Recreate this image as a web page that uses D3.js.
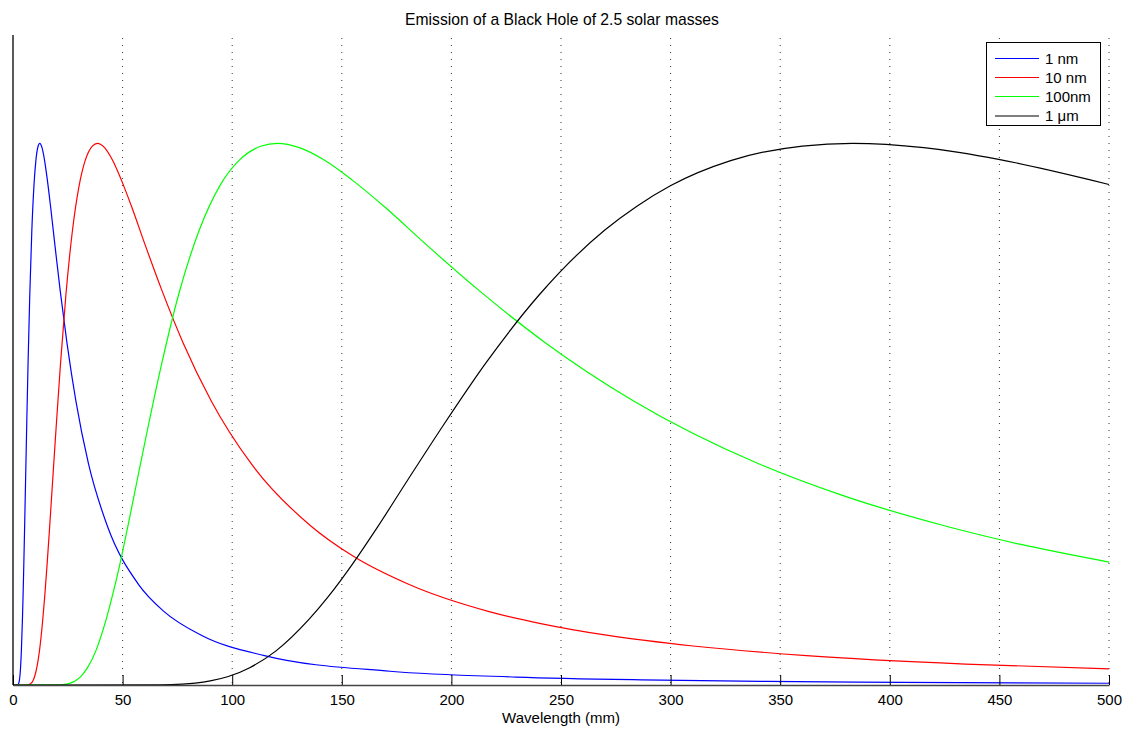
<!DOCTYPE html>
<html>
<head>
<meta charset="utf-8">
<script src="https://cdn.jsdelivr.net/npm/d3@7"></script>
<style>
  html, body { margin: 0; padding: 0; background: #fff; }
  svg { display: block; font-family: "Liberation Sans", Arial, Helvetica, sans-serif; }
</style>
</head>
<body>
<svg id="chart" width="1129" height="729"></svg>
<script>
// ---- Data (normalised emission, peak = 1) ----
const chartTitle = "Emission of a Black Hole of 2.5 solar masses";
const xAxisLabel = "Wavelength (mm)";
const xTickValues = [0, 50, 100, 150, 200, 250, 300, 350, 400, 450, 500];
const seriesNames = ["1 nm", "10 nm", "100nm", "1 \u03bcm"];
const seriesColors = ["#0000ff", "#ff0000", "#00ff00", "#000000"];

const blueLambda = [0, 2.15, 2.46, 2.65, 2.87, 3.13, 3.44, 3.82, 4.30, 4.59, 4.92, 5.30, 5.74, 6.26, 6.88, 7.65, 8.6, 9.56, 10.43, 11.47, 12.2, 13.24, 14.34, 15.65, 17.21, 19.12, 21.5, 24.6, 28.7, 34.4, 43.0, 57.4, 68.8, 86.1, 114.7, 172, 229.5, 286.8, 344, 405, 500];
const blueValue  = [0, 0.0003, 0.0016, 0.0035, 0.0075, 0.0156, 0.032, 0.063, 0.121, 0.164, 0.220, 0.291, 0.378, 0.480, 0.596, 0.720, 0.840, 0.922, 0.968, 0.995, 1, 0.992, 0.970, 0.933, 0.881, 0.812, 0.729, 0.632, 0.524, 0.409, 0.294, 0.185, 0.136, 0.0915, 0.0543, 0.0254, 0.0147, 0.0095, 0.0067, 0.0049, 0.0032];

const redLambda = [0, 6.79, 7.76, 8.35, 9.05, 9.87, 10.86, 12.07, 13.58, 14.48, 15.51, 16.71, 18.1, 19.75, 21.72, 24.13, 27.15, 30.17, 32.91, 36.2, 38.5, 41.77, 45.25, 49.36, 54.3, 60.33, 67.88, 77.57, 90.5, 108.6, 135.75, 155.1, 181, 217.2, 241.3, 271.5, 310.3, 362, 434.4, 500];
const redValue  = [0, 0.0003, 0.0016, 0.0035, 0.0075, 0.0156, 0.032, 0.063, 0.121, 0.164, 0.220, 0.291, 0.378, 0.480, 0.596, 0.720, 0.840, 0.922, 0.968, 0.995, 1, 0.992, 0.970, 0.933, 0.881, 0.812, 0.729, 0.632, 0.524, 0.409, 0.294, 0.238, 0.185, 0.1355, 0.113, 0.0915, 0.072, 0.0543, 0.0387, 0.0297];

const greenLambda = [0, 21.2, 24.3, 26.1, 28.3, 30.9, 34.0, 37.8, 42.5, 45.3, 48.6, 52.3, 56.65, 61.8, 68.0, 75.5, 85.0, 94.4, 103.0, 113.3, 120.5, 130.7, 141.6, 154.5, 170, 188.8, 212.4, 242.8, 283.3, 339.9, 377.7, 424.9, 459.3, 500];
const greenValue  = [0, 0.0003, 0.0016, 0.0035, 0.0075, 0.0156, 0.032, 0.063, 0.121, 0.164, 0.220, 0.291, 0.378, 0.480, 0.596, 0.720, 0.840, 0.922, 0.968, 0.995, 1, 0.992, 0.970, 0.933, 0.881, 0.812, 0.729, 0.632, 0.524, 0.409, 0.351, 0.294, 0.260, 0.227];

const blackLambda = [0, 67.5, 77.2, 83.1, 90.0, 98.2, 108, 120, 135, 144, 154.3, 166.2, 180, 196.4, 216, 240, 270, 284.3, 300.1, 327.4, 360.1, 383, 415.5, 432.2, 450.2, 491, 500];
const blackValue  = [0, 0.0003, 0.0016, 0.0035, 0.0075, 0.0156, 0.032, 0.063, 0.121, 0.164, 0.220, 0.291, 0.378, 0.480, 0.596, 0.720, 0.840, 0.883, 0.922, 0.968, 0.995, 1, 0.992, 0.983, 0.970, 0.933, 0.924];

const seriesLambdas = [blueLambda, redLambda, greenLambda, blackLambda];
const seriesValues = [blueValue, redValue, greenValue, blackValue];

// ---- Layout ----
const plotLeft = 13, plotRight = 1109, plotTop = 35, plotBottom = 685;

const svg = d3.select("#chart");

const x = d3.scaleLinear().domain([0, 500]).range([plotLeft, plotRight]);
const y = d3.scaleLinear().domain([0, 1.2]).range([plotBottom, plotTop]);

// dotted vertical grid
svg.append("g")
  .selectAll("line")
  .data(xTickValues.filter(d => d > 0))
  .join("line")
  .attr("x1", d => x(d)).attr("x2", d => x(d))
  .attr("y1", plotTop + 3).attr("y2", plotBottom)
  .attr("stroke", "#333")
  .attr("stroke-width", 1)
  .attr("stroke-dasharray", "1,6");

// curves
const line = d3.line()
  .x(d => x(d[0]))
  .y(d => y(d[1]))
  .curve(d3.curveMonotoneX);

seriesNames.forEach((name, i) => {
  const pts = seriesLambdas[i].map((l, j) => [l, seriesValues[i][j]]);
  svg.append("path")
    .datum(pts)
    .attr("fill", "none")
    .attr("stroke", seriesColors[i])
    .attr("stroke-width", 1.2)
    .attr("d", line);
});

// x axis
const xAxis = d3.axisBottom(x)
  .tickValues(xTickValues)
  .tickSizeInner(-10)
  .tickSizeOuter(0)
  .tickPadding(9);

const gx = svg.append("g")
  .attr("transform", `translate(0,${plotBottom})`)
  .call(xAxis);
gx.select(".domain").attr("stroke", "#444").attr("stroke-width", 1.5);
gx.selectAll(".tick line").attr("stroke", "#000").attr("stroke-width", 1);
gx.selectAll(".tick text")
  .attr("font-size", 15)
  .attr("font-family", "Liberation Sans, Arial, sans-serif")
  .attr("fill", "#000");

// left axis line (no ticks)
svg.append("line")
  .attr("x1", plotLeft).attr("x2", plotLeft)
  .attr("y1", plotTop).attr("y2", plotBottom)
  .attr("stroke", "#000")
  .attr("stroke-width", 1.3);

// title
svg.append("text")
  .attr("x", 562).attr("y", 25)
  .attr("text-anchor", "middle")
  .attr("font-size", 15.7)
  .attr("fill", "#000")
  .text(chartTitle);

// x label
svg.append("text")
  .attr("x", 561).attr("y", 723)
  .attr("text-anchor", "middle")
  .attr("font-size", 15)
  .attr("fill", "#000")
  .text(xAxisLabel);

// legend
const lg = svg.append("g");
lg.append("rect")
  .attr("x", 986.5).attr("y", 42.5)
  .attr("width", 114).attr("height", 83)
  .attr("fill", "#fff")
  .attr("stroke", "#000")
  .attr("stroke-width", 1);
const rowY = [58.5, 77.5, 96.5, 116];
seriesNames.forEach((name, i) => {
  lg.append("line")
    .attr("x1", 995).attr("x2", 1039)
    .attr("y1", rowY[i]).attr("y2", rowY[i])
    .attr("stroke", seriesColors[i])
    .attr("stroke-width", 1.2);
  lg.append("text")
    .attr("x", 1045).attr("y", rowY[i] + 5)
    .attr("font-size", 15)
    .attr("fill", "#000")
    .text(name);
});
</script>
</body>
</html>
